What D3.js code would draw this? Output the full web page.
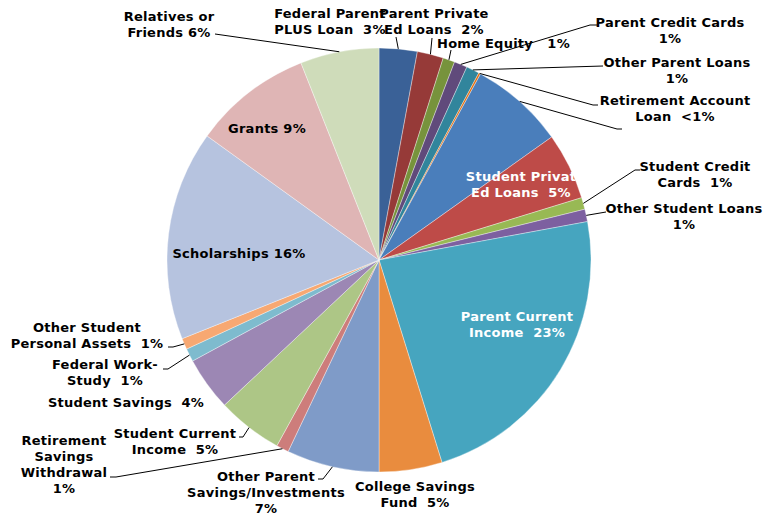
<!DOCTYPE html>
<html>
<head>
<meta charset="utf-8">
<script src="https://cdn.jsdelivr.net/npm/d3@7"></script>
<style>
  body { margin: 0; background: #fff; }
  text { font-family: "DejaVu Sans", Verdana, sans-serif; font-weight: bold; font-size: 13px; letter-spacing: 0.25px; white-space: pre; }
</style>
</head>
<body>
<div id="chart"></div>
<script>
// slice names, clockwise from 12 o'clock
var categories = [
  'Federal Parent PLUS Loan', 'Parent Private Ed Loans', 'Home Equity', 'Parent Credit Cards',
  'Other Parent Loans', 'Retirement Account Loan', 'Federal Student Loans', 'Student Private Ed Loans',
  'Student Credit Cards', 'Other Student Loans', 'Parent Current Income', 'College Savings Fund',
  'Other Parent Savings/Investments', 'Retirement Savings Withdrawal', 'Student Current Income',
  'Student Savings', 'Federal Work-Study', 'Other Student Personal Assets', 'Scholarships',
  'Grants', 'Relatives or Friends'
];
// share of total (percent)
var values = [2.9, 2.0, 0.9, 1.0, 1.0, 0.15, 7.2, 5.1, 0.9, 0.95, 23.1, 4.8,
  7.05, 0.95, 5.0, 4.1, 1.0, 0.85, 16.0, 9.05, 6.0];
// label text as printed on the chart
var labelText = [
  ['Federal Parent', 'PLUS Loan  3%'], ['Parent Private', 'Ed Loans  2%'], ['Home Equity   1%'],
  ['Parent Credit Cards', '1%'], ['Other Parent Loans', '1%'], ['Retirement Account', 'Loan  <1%'],
  [], ['Student Privat', 'Ed Loans  5%'], ['Student Credit', 'Cards  1%'], ['Other Student Loans', '1%'],
  ['Parent Current', 'Income  23%'], ['College Savings', 'Fund  5%'],
  ['Other Parent', 'Savings/Investments', '7%'], ['Retirement', 'Savings', 'Withdrawal', '1%'],
  ['Student Current', 'Income  5%'], ['Student Savings  4%'], ['Federal Work-', 'Study  1%'],
  ['Other Student', 'Personal Assets  1%'], ['Scholarships 16%'], ['Grants 9%'], ['Relatives or', 'Friends 6%']
];

var colors = ['#3a6197', '#963a38', '#77933c', '#604a7b', '#31859c', '#e46c0a', '#4a7ebb',
  '#be4b48', '#98b954', '#7d60a0', '#46a5bf', '#e98c3e', '#7f9bc8', '#cd7d7b', '#adc686',
  '#9c87b4', '#7ebbce', '#f7a872', '#b6c3df', '#dfb5b5', '#cfdcba'];

var width = 765, height = 516;
var cx = 379, cy = 260, radius = 212;

// label layout: x, first line y (middle), anchor, colour, leader path (label side first)
var labelLayout = [
  {x: 330, y: 13, leader: [[396, 37]]},
  {x: 434, y: 13, leader: [[432, 38]]},
  {x: 437, y: 43, anchor: 'start', leader: [[451, 50]]},
  {x: 670, y: 22, leader: [[597, 25], [590, 25]]},
  {x: 677, y: 62, leader: [[603, 66]]},
  {x: 675, y: 100, leader: [[598, 105], [593, 105]]},
  {leader: [[622, 129], [617, 129]]},
  {x: 521, y: 176, fill: '#fff'},
  {x: 695, y: 166, leader: [[640, 170], [635, 170]]},
  {x: 684, y: 208, leader: [[606, 212]]},
  {x: 517, y: 316, fill: '#fff'},
  {x: 415, y: 486},
  {x: 266, y: 476, leader: [[318, 479], [323, 479]]},
  {x: 64, y: 440, leader: [[110, 477], [116, 477]]},
  {x: 175, y: 433, leader: [[239, 437], [243, 437]]},
  {x: 126, y: 402},
  {x: 105, y: 364, leader: [[163, 369], [168, 369]]},
  {x: 87, y: 327, leader: [[168, 347], [173, 347]]},
  {x: 239, y: 253},
  {x: 267, y: 128},
  {x: 169, y: 16, leader: [[215, 34]]}
];
var lineGap = 16;

var svg = d3.select('#chart').append('svg')
  .attr('width', width)
  .attr('height', height);

var pie = d3.pie().sort(null).value(function(d) { return d; });
var arcs = pie(values);

var arc = d3.arc().innerRadius(0).outerRadius(radius);
var edgeArc = d3.arc().innerRadius(radius).outerRadius(radius);

var pieGroup = svg.append('g').attr('transform', 'translate(' + cx + ',' + cy + ')');

pieGroup.selectAll('path.slice')
  .data(arcs)
  .enter()
  .append('path')
  .attr('class', 'slice')
  .attr('d', arc)
  .attr('fill', function(d, i) { return colors[i]; })
  .attr('stroke', '#ffffff')
  .attr('stroke-opacity', 0.6)
  .attr('stroke-width', 0.6);

// leader lines, from label to the slice edge
var line = d3.line();
arcs.forEach(function(d, i) {
  var lay = labelLayout[i];
  if (!lay.leader) return;
  var c = edgeArc.centroid(d);
  var pts = lay.leader.concat([[c[0] + cx, c[1] + cy]]);
  svg.append('path')
    .attr('d', line(pts))
    .attr('fill', 'none')
    .attr('stroke', '#000')
    .attr('stroke-width', 1);
});

// labels
labelText.forEach(function(lines, i) {
  var lay = labelLayout[i];
  if (!lines.length) return;
  var t = svg.append('text')
    .attr('text-anchor', lay.anchor || 'middle')
    .attr('fill', lay.fill || '#000');
  lines.forEach(function(s, j) {
    t.append('tspan')
      .attr('x', lay.x)
      .attr('y', lay.y + j * lineGap)
      .attr('dy', '0.35em')
      .text(s);
  });
});
</script>
</body>
</html>
